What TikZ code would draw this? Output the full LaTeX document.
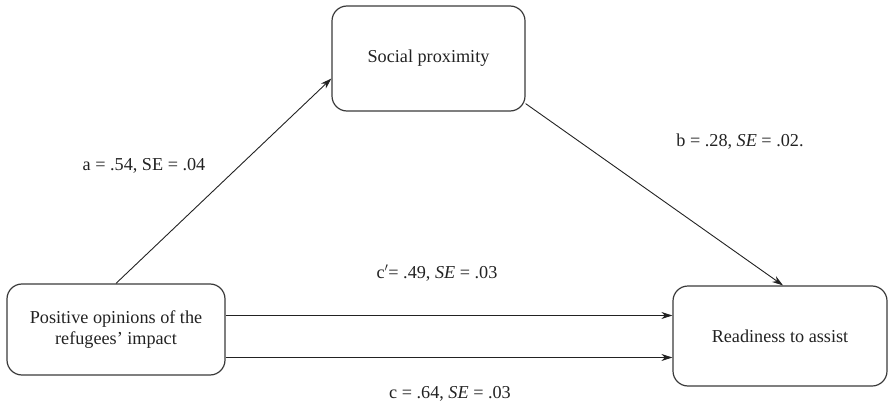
\documentclass[tikz,border=0pt]{standalone}
\usepackage{fontspec}
\setmainfont{Liberation Serif}
\usetikzlibrary{arrows.meta}
\definecolor{borde}{HTML}{3A3A3A}
\definecolor{texto}{HTML}{222222}
\tikzset{
    caja/.style={draw=borde, line width=1.2pt, rounded corners=15pt, align=center,
        text=texto, font=\fontsize{18.2}{21}\selectfont, inner sep=0pt},
    flecha/.style={draw=texto, line width=0.9pt, -{Stealth[length=11pt,width=7pt]}},
    etiqueta/.style={text=texto, font=\fontsize{18.2}{21}\selectfont, inner sep=0pt}
}
\begin{document}
\begin{tikzpicture}[x=1pt,y=-1pt]
    \useasboundingbox (0,0) rectangle (896,406);
    % Cajas
    \node[caja, minimum width=193pt, minimum height=105pt] (social) at (428.5,58.5) {Social proximity};
    \node[caja, minimum width=218pt, minimum height=91pt] (opinions) at (116,329.5) {Positive opinions of the\\refugees' impact};
    \node[caja, minimum width=214pt, minimum height=100pt] (readiness) at (780,336) {Readiness to assist};

    % Flechas
    \draw[flecha] (opinions.north) -- ([yshift=-20pt]social.west);
    \draw[flecha] ([yshift=8pt]social.south east) -- ([xshift=3pt]readiness.north);
    \draw[flecha] ([yshift=14pt]opinions.east) -- ([yshift=14pt]opinions.east -| readiness.west);
    \draw[flecha] ([yshift=-28pt]opinions.east) -- ([yshift=-28pt]opinions.east -| readiness.west);

    % Etiquetas
    \node[etiqueta] (labelA) at (144,166) {a = .54, SE = .04};
    \node[etiqueta] (labelB) at (740,142) {b = .28, \textit{SE} = .02.};
    \node[etiqueta] (labelCp) at (437,273) {c$'$= .49, \textit{SE} = .03};
    \node[etiqueta] (labelC) at (450,394) {c = .64, \textit{SE} = .03};
\end{tikzpicture}
\end{document}
